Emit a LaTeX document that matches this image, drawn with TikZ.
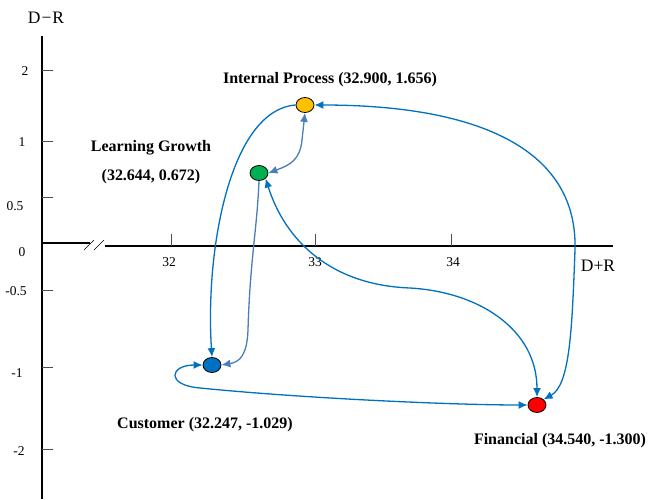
\documentclass[tikz,border=0pt]{standalone}
\usepackage{fontspec}
\setmainfont{Liberation Serif}
\usetikzlibrary{arrows.meta,shapes.geometric}
\definecolor{lineblue}{HTML}{0070C0}
\definecolor{lightblue}{HTML}{4A7EBB}
\definecolor{ipyellow}{HTML}{FFC000}
\definecolor{lggreen}{HTML}{00B050}
\definecolor{cublue}{HTML}{0070C0}
\begin{document}
\begin{tikzpicture}[x=1pt,y=-1pt,
  axis/.style={black,line width=1.8pt},
  tickline/.style={black!70,line width=0.6pt},
  ticklabel/.style={font=\fontsize{13.5}{15}\selectfont,inner sep=0pt},
  pt/.style={ellipse,draw=black,line width=0.8pt,minimum width=18pt,minimum height=15pt,inner sep=0pt},
  lab/.style={font=\fontsize{16}{18}\selectfont\bfseries,inner sep=0pt},
  conn/.style={lineblue,line width=1.3pt,-{Latex[length=9pt,width=8pt]}},
  connb/.style={lineblue,line width=1.3pt,{Latex[length=9pt,width=8pt]}-{Latex[length=9pt,width=8pt]}},
  connl/.style={lightblue,line width=1.3pt,{Latex[length=9pt,width=8pt]}-{Latex[length=9pt,width=8pt]}},
  connlo/.style={lightblue,line width=1.3pt,-{Latex[length=9pt,width=8pt]}}
]
\useasboundingbox (0,0) rectangle (649,499);
% axes
\draw[axis] (42,36) -- (42,499);
\draw[axis] (42,243) -- (90,243);
\draw[axis] (105,246) -- (613,246);
\draw[black,line width=0.6pt] (84,250) -- (94,240);
\draw[black,line width=0.6pt] (94,250) -- (104,240);
% y ticks
\foreach \yy in {70,141,197,290,367,449}{
  \draw[tickline] (42,\yy) -- (53,\yy);
}
\node[ticklabel] (y2) at (25,71) {2};
\node[ticklabel] (y1) at (22,142) {1};
\node[ticklabel] (y05) at (15,206) {0.5};
\node[ticklabel] (y0) at (22,252) {0};
\node[ticklabel] (ym05) at (16,291) {-0.5};
\node[ticklabel] (ym1) at (17,373) {-1};
\node[ticklabel] (ym2) at (19,451) {-2};
% x ticks
\foreach \xx in {171,315,451}{\draw[tickline] (\xx,234) -- (\xx,246);}
\node[ticklabel] (x32) at (169,262) {32};
\node[ticklabel] (x33) at (315,262) {33};
\node[ticklabel] (x34) at (453,262) {34};
\node[font=\fontsize{17.5}{19}\selectfont,inner sep=0pt] (xlab) at (598,266) {D+R};
\node[font=\fontsize{17.5}{19}\selectfont,inner sep=0pt] (ylab) at (46,18) {D\kern1pt−\kern1ptR};
% points
\node[pt,fill=ipyellow] (ip) at (305,105) {};
\node[pt,fill=lggreen] (lg) at (259,173) {};
\node[pt,fill=cublue] (cu) at (212,365) {};
\node[pt,fill=red] (fi) at (537,405) {};
% labels
\node[lab] (iplab) at (330,80) {Internal Process (32.900, 1.656)};
\node[lab] (lglab1) at (151,148) {Learning Growth};
\node[lab] (lglab2) at (151,177) {(32.644, 0.672)};
\node[lab] (culab) at (205,425) {Customer (32.247, -1.029)};
\node[lab] (filab) at (560,441) {Financial (34.540, -1.300)};
% connectors
\draw[connb] (ip.east) .. controls (480,105) and (578,150) .. (575,250)
  .. controls (572,330) and (570,385) .. (fi.north east);
\draw[conn] (ip.west) .. controls (230,110) and (205,250) .. (cu.north);
\draw[connl] (lg.east) .. controls (290,165) and (300,160) .. (302,140) -- (ip.south);
\draw[connlo] (lg.south) .. controls (257,230) and (250,260) .. (248,330)
  .. controls (247,355) and (240,362) .. (cu.east);
\draw[connb] (lg.south east) .. controls (285,240) and (330,285) .. (410,288)
  .. controls (480,292) and (537,330) .. (fi.north);
\draw[connb] (cu.west) .. controls (170,365) and (165,385) .. (200,388)
  .. controls (300,398) and (450,405) .. (fi.west);
\end{tikzpicture}
\end{document}
